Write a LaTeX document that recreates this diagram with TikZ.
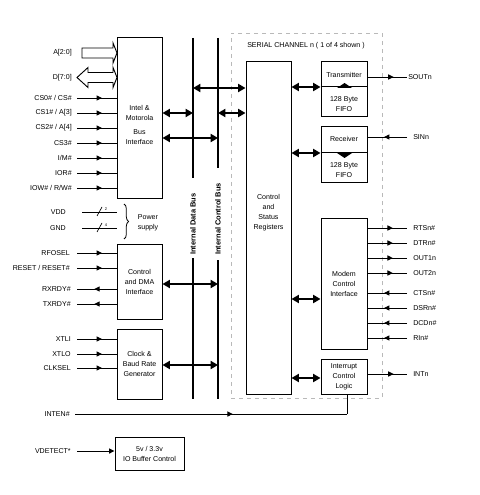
\documentclass[tikz,border=0pt]{standalone}
\usepackage{fontspec}
\setmainfont{Liberation Sans}
\usetikzlibrary{arrows.meta,decorations.markings,decorations.pathreplacing}
\tikzset{
  px/.style 2 args={minimum width=#1*0.75pt,minimum height=#2*0.75pt},
  box/.style={draw,line width=0.75pt,inner sep=0pt,align=center},
  txt/.style={inner sep=0pt,align=center},
  lbl/.style={inner sep=0pt,anchor=east},
  rlbl/.style={inner sep=0pt,anchor=west},
  sig/.style={line width=0.7pt},
  midarr/.style={postaction={decorate},decoration={markings,mark=at position #1 with {\arrow{Triangle[length=4pt,width=3.8pt]}}}},
  endarr/.style={-{Triangle[length=4pt,width=3.8pt]}},
  busline/.style={line width=1.5pt},
  dbl/.style={line width=1.5pt,{Triangle[length=5.5pt,width=6pt]}-{Triangle[length=5.5pt,width=6pt]}},
  buslbl/.style={inner sep=0pt,rotate=90,anchor=west,font=\fontsize{5.6}{6}\selectfont\bfseries},
  hollow/.style={draw,line width=0.7pt,fill=white},
}
\begin{document}
\begin{tikzpicture}[x=0.75pt,y=-0.75pt,font=\fontsize{5.3}{7.5}\selectfont]
\useasboundingbox (0,0) rectangle (479,495);

% ---------- serial channel frame ----------
\node[draw=gray!55,dashed,line width=0.4pt,inner sep=0pt,px={151}{365}] (chan) at (306.5,215.5) {};
\node[rlbl] (title) at (247,46) {SERIAL CHANNEL n ( 1 of 4 shown )};

% ---------- boxes ----------
\node[box,px={45}{160}] (bi) at (139.5,118) {};
\node[txt] (bitxt) at (139.5,125) {Intel \&\\Motorola\\[3.6pt]Bus\\Interface};
\node[box,px={45}{75}] (dma) at (139.5,281.5) {Control\\and DMA\\Interface};
\node[box,px={45}{70}] (clk) at (139.5,364) {Clock \&\\Baud Rate\\Generator};
\node[box,px={69}{33}] (iob) at (149.5,453.5) {5v / 3.3v\\IO Buffer Control};

\node[box,px={45}{332}] (reg) at (268.5,228) {};
\node[txt] (regtxt) at (268.5,212.5) {Control\\and\\Status\\Registers};

\node[box,px={46}{55}] (tx) at (344,89.5) {};
\draw[line width=0.75pt] (tx.west |- 0,87) -- (tx.east |- 0,87);
\node[txt] (txt1) at (344,75) {Transmitter};
\node[txt] (txt2) at (344,104) {128 Byte\\FIFO};
\fill (337,88) -- (344.5,83) -- (352,88) -- cycle;

\node[box,px={46}{56}] (rx) at (344,155) {};
\draw[line width=0.75pt] (rx.west |- 0,153) -- (rx.east |- 0,153);
\node[txt] (rxt1) at (344,139) {Receiver};
\node[txt] (rxt2) at (344,170) {128 Byte\\FIFO};
\fill (337,153) -- (344.5,158) -- (352,153) -- cycle;

\node[box,px={46}{131}] (mdm) at (344,283.5) {Modem\\Control\\Interface};
\node[box,px={46}{35}] (irq) at (344,376.5) {Interrupt\\Control\\Logic};

% ---------- internal buses ----------
\coordinate (db) at (193,0);
\coordinate (cb) at (218,0);
\draw[busline] (db |- 0,38) -- (db |- 0,178);
\draw[busline] (db |- 0,258) -- (db |- 0,399);
\draw[busline] (cb |- 0,38) -- (cb |- 0,168);
\draw[busline] (cb |- 0,260) -- (cb |- 0,399);
\node[buslbl] (dbl) at (193,255) {Internal Data Bus};
\node[buslbl] (cbl) at (218,255) {Internal Control Bus};

\draw[dbl] (db |- 0,88) -- (reg.west |- 0,88);
\draw[dbl] (bi.east |- 0,113) -- (db |- 0,113);
\draw[dbl] (cb |- 0,113) -- (reg.west |- 0,113);
\draw[dbl] (bi.east |- 0,138) -- (cb |- 0,138);
\draw[dbl] (dma.east |- 0,284) -- (cb |- 0,284);
\draw[dbl] (clk.east |- 0,365) -- (cb |- 0,365);

\draw[dbl] (reg.east |- 0,87) -- (tx.west |- 0,87);
\draw[dbl] (reg.east |- 0,153) -- (rx.west |- 0,153);
\draw[dbl] (reg.east |- 0,299) -- (mdm.west |- 0,299);
\draw[dbl] (reg.east |- 0,378) -- (irq.west |- 0,378);

% ---------- address / data ----------
\node[lbl] (la) at (72,53) {A[2:0]};
\node[lbl] (ld) at (72,77.5) {D[7:0]};
\draw[hollow] (82,48) -- (113,48) -- (113,43) -- (117,53) -- (113,63) -- (113,58) -- (82,58) -- cycle;
\draw[hollow] (77,77.5) -- (88,67.5) -- (88,72.5) -- (113,72.5) -- (113,67.5) -- (117,77.5)
  -- (113,87.5) -- (113,82.5) -- (88,82.5) -- (88,87.5) -- cycle;

% ---------- bus interface inputs ----------
\node[lbl] (l1) at (72,98) {CS0\# / CS\#};
\node[lbl] (l2) at (72,113) {CS1\# / A[3]};
\node[lbl] (l3) at (72,128) {CS2\# / A[4]};
\node[lbl] (l4) at (72,143) {CS3\#};
\node[lbl] (l5) at (72,158) {I/M\#};
\node[lbl] (l6) at (72,173) {IOR\#};
\node[lbl] (l7) at (72,188) {IOW\# / R/W\#};
\draw[sig,midarr=0.63] (77,98) -- (bi.west |- 0,98);
\draw[sig,midarr=0.63] (77,113) -- (bi.west |- 0,113);
\draw[sig,midarr=0.63] (77,128) -- (bi.west |- 0,128);
\draw[sig,midarr=0.63] (77,143) -- (bi.west |- 0,143);
\draw[sig,midarr=0.63] (77,158) -- (bi.west |- 0,158);
\draw[sig,midarr=0.63] (77,173) -- (bi.west |- 0,173);
\draw[sig,midarr=0.63] (77,188) -- (bi.west |- 0,188);

% ---------- power ----------
\node[lbl] (lvdd) at (66,212) {VDD};
\node[lbl] (lgnd) at (66,228) {GND};
\draw[sig] (82,212) -- (117,212);
\draw[sig] (82,228) -- (117,228);
\draw[line width=0.5pt] (97,216) -- (102,207);
\draw[line width=0.5pt] (97,232) -- (102,223);
\node[inner sep=0pt,font=\fontsize{3}{3}\selectfont] (n2) at (106,209) {2};
\node[inner sep=0pt,font=\fontsize{3}{3}\selectfont] (n4) at (106,225) {4};
\draw[line width=0.6pt,decorate,decoration={brace,amplitude=3.5pt}] (124,204) -- (124,239);
\node[txt] (pwr) at (148,223) {Power\\supply};

% ---------- control & DMA ----------
\node[lbl] (l8) at (70,253) {RFOSEL};
\node[lbl] (l9) at (70,268) {RESET / RESET\#};
\node[lbl] (l10) at (71,289) {RXRDY\#};
\node[lbl] (l11) at (71,304) {TXRDY\#};
\draw[sig,midarr=0.63] (77,253) -- (dma.west |- 0,253);
\draw[sig,midarr=0.63] (77,268) -- (dma.west |- 0,268);
\draw[sig,midarr=0.56] (dma.west |- 0,289) -- (77,289);
\draw[sig,midarr=0.56] (dma.west |- 0,304) -- (77,304);

% ---------- clock ----------
\node[lbl] (l12) at (71,339) {XTLI};
\node[lbl] (l13) at (71,354) {XTLO};
\node[lbl] (l14) at (71,368) {CLKSEL};
\draw[sig,midarr=0.63] (77,339) -- (clk.west |- 0,339);
\draw[sig,midarr=0.63] (77,354) -- (clk.west |- 0,354);
\draw[sig,midarr=0.63] (77,368) -- (clk.west |- 0,368);

% ---------- INTEN ----------
\node[lbl] (l15) at (70,414) {INTEN\#};
\coordinate (ie) at (347,414);
\draw[sig,midarr=0.58] (75,414) -- (ie);
\draw[sig] (ie) -- (ie |- irq.south);

% ---------- VDETECT ----------
\node[lbl] (l16) at (71,451) {VDETECT*};
\draw[sig,endarr] (77,451) -- (iob.west |- 0,451);

% ---------- channel outputs / inputs ----------
\node[rlbl] (r1) at (408,77) {SOUTn};
\draw[sig,midarr=0.66] (tx.east |- 0,77) -- (407,77);
\node[rlbl] (r2) at (413,137) {SINn};
\draw[sig,midarr=0.58] (407,137) -- (rx.east |- 0,137);

\node[rlbl] (r3) at (413,228) {RTSn\#};
\node[rlbl] (r4) at (413,243) {DTRn\#};
\node[rlbl] (r5) at (413,258) {OUT1n};
\node[rlbl] (r6) at (413,273) {OUT2n};
\node[rlbl] (r7) at (413,293) {CTSn\#};
\node[rlbl] (r8) at (413,308) {DSRn\#};
\node[rlbl] (r9) at (413,323) {DCDn\#};
\node[rlbl] (r10) at (413,338) {RIn\#};
\draw[sig,midarr=0.64] (mdm.east |- 0,228) -- (407,228);
\draw[sig,midarr=0.64] (mdm.east |- 0,243) -- (407,243);
\draw[sig,midarr=0.64] (mdm.east |- 0,258) -- (407,258);
\draw[sig,midarr=0.64] (mdm.east |- 0,273) -- (407,273);
\draw[sig,midarr=0.58] (407,293) -- (mdm.east |- 0,293);
\draw[sig,midarr=0.58] (407,308) -- (mdm.east |- 0,308);
\draw[sig,midarr=0.58] (407,323) -- (mdm.east |- 0,323);
\draw[sig,midarr=0.58] (407,338) -- (mdm.east |- 0,338);

\node[rlbl] (r11) at (413,374) {INTn};
\draw[sig,midarr=0.66] (irq.east |- 0,374) -- (407,374);
\end{tikzpicture}
\end{document}
